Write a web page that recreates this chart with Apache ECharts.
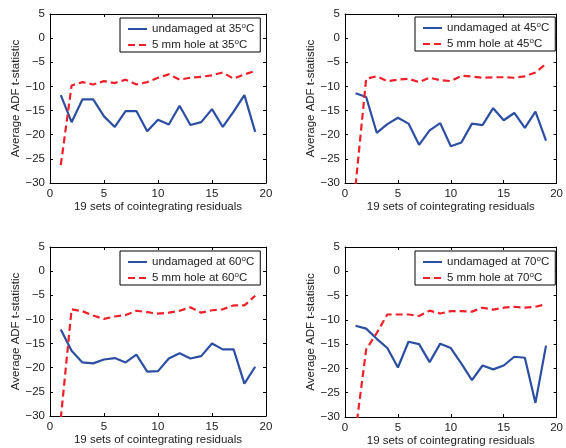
<!DOCTYPE html>
<html><head><meta charset="utf-8">
<script src="https://cdn.jsdelivr.net/npm/echarts@6/dist/echarts.min.js"></script>
<style>html,body{margin:0;padding:0;background:#fff}#c{width:566px;height:448px}</style>
</head><body><div id="c"></div>
<script>
// ---- data ----
const xSets = [1,2,3,4,5,6,7,8,9,10,11,12,13,14,15,16,17,18,19];
const temps = ['35','45','60','70'];
const undamaged35 = [-11.8,-17.4,-12.7,-12.7,-16.2,-18.4,-15.1,-15.1,-19.3,-16.9,-17.9,-14.0,-18.0,-17.4,-14.7,-18.4,-15.2,-11.8,-19.4];
const hole35      = [-26.3,-9.8,-9.1,-9.6,-8.9,-9.3,-8.6,-9.6,-9.1,-8.2,-7.5,-8.6,-8.2,-8.0,-7.7,-7.1,-8.4,-7.5,-6.8];
const undamaged45 = [-11.4,-12.2,-19.6,-17.8,-16.5,-17.7,-22.1,-19.1,-17.6,-22.4,-21.6,-17.7,-18.0,-14.5,-17.0,-15.5,-18.6,-15.2,-21.2];
const hole45      = [-30.5,-8.4,-7.9,-8.9,-8.6,-8.4,-9.1,-8.2,-8.7,-8.9,-7.8,-7.95,-8.2,-8.1,-8.1,-8.2,-7.9,-7.1,-5.3];
const undamaged60 = [-12.1,-16.5,-18.9,-19.1,-18.3,-18.0,-18.9,-17.3,-20.8,-20.7,-18.1,-17.0,-18.1,-17.6,-15.0,-16.2,-16.2,-23.3,-19.8];
const hole60      = [-30.5,-7.9,-8.3,-9.2,-9.9,-9.4,-9.1,-8.2,-8.5,-8.8,-8.6,-8.2,-7.5,-8.6,-8.1,-7.9,-7.1,-7.1,-5.1];
const undamaged70 = [-11.2,-11.8,-13.9,-15.8,-19.8,-14.5,-15.0,-18.7,-14.9,-15.8,-19.0,-22.4,-19.4,-20.2,-19.4,-17.6,-17.8,-27.1,-15.3];
const hole70      = [-33.0,-16.1,-12.7,-8.9,-8.9,-8.9,-9.2,-8.1,-8.7,-8.2,-8.2,-8.3,-7.5,-7.9,-7.5,-7.3,-7.5,-7.3,-6.8];
const xTitle = '19 sets of cointegrating residuals';
const yTitle = 'Average ADF t-statistic';

// ---- styling / layout ----
const BLUE = '#2C4FA3', RED = '#F0202A', TXT = '#222', FONT = '"Liberation Sans", Arial, Helvetica, sans-serif';
const undamaged = [undamaged35, undamaged45, undamaged60, undamaged70];
const holes = [hole35, hole45, hole60, hole70];
const layout = [
  {grid:{left:50, top:14, width:216, height:169}, legend:{left:120, top:18}},
  {grid:{left:345, top:14, width:217, height:169}, legend:{left:415, top:17}},
  {grid:{left:50, top:247, width:216, height:169}, legend:{left:120, top:251}},
  {grid:{left:345, top:247, width:217, height:170}, legend:{left:415, top:251}}
];

const grids = [], xAxes = [], yAxes = [], series = [], legends = [];
const lineAxis = {show:true, onZero:false, lineStyle:{color:'#000', width:1}};
const tick = {show:true, inside:true, length:3, lineStyle:{color:'#000'}};
const minus = v => String(v).replace('-', '\u2212');

temps.forEach((t, i) => {
  grids.push(Object.assign({containLabel:false}, layout[i].grid));
  xAxes.push({gridIndex:i, type:'value', min:0, max:20, interval:5, position:'bottom',
    axisLine:lineAxis, axisTick:tick, splitLine:{show:false},
    axisLabel:{color:TXT, fontSize:11.5, fontFamily:FONT, margin:5},
    name:xTitle, nameLocation:'middle', nameGap:17.5,
    nameTextStyle:{color:TXT, fontSize:11.5, fontFamily:FONT}});
  xAxes.push({gridIndex:i, type:'value', min:0, max:20, interval:5, position:'top',
    axisLine:lineAxis, axisTick:tick, splitLine:{show:false}, axisLabel:{show:false}});
  yAxes.push({gridIndex:i, type:'value', min:-30, max:5, interval:5, position:'left',
    axisLine:lineAxis, axisTick:tick, splitLine:{show:false},
    axisLabel:{color:TXT, fontSize:11.5, fontFamily:FONT, margin:5, formatter:minus},
    name:yTitle, nameLocation:'middle', nameRotate:90, nameGap:26,
    nameTextStyle:{color:TXT, fontSize:11.5, fontFamily:FONT}});
  yAxes.push({gridIndex:i, type:'value', min:-30, max:5, interval:5, position:'right',
    axisLine:lineAxis, axisTick:tick, splitLine:{show:false}, axisLabel:{show:false}});
  const nU = 'undamaged at ' + t + '°C', nH = '5 mm hole at ' + t + '°C';
  series.push({type:'line', name:nU, xAxisIndex:2*i, yAxisIndex:2*i, symbol:'none',
    data: xSets.map((x,k)=>[x, undamaged[i][k]]),
    lineStyle:{color:BLUE, width:2.2}, itemStyle:{color:BLUE}, clip:true});
  series.push({type:'line', name:nH, xAxisIndex:2*i, yAxisIndex:2*i, symbol:'none',
    data: xSets.map((x,k)=>[x, holes[i][k]]),
    lineStyle:{color:RED, width:2.2, type:[7,4]}, itemStyle:{color:RED}, clip:true});
  legends.push(Object.assign({
    data:[nU, nH], orient:'vertical', backgroundColor:'#fff', borderColor:'#000', borderWidth:1,
    padding:[4,6,1,7], itemGap:3, itemWidth:19, itemHeight:14, selectedMode:false,
    itemStyle:{color:'rgba(0,0,0,0)', borderWidth:0, opacity:0},
    formatter: n => { const p = n.split('°'); return '{t|' + p[0] + '}{s|o}{t|' + p[1] + '}'; },
    textStyle:{color:TXT, fontSize:11.5, fontFamily:FONT,
      rich:{t:{color:TXT, fontSize:11.5, fontFamily:FONT, lineHeight:14},
            s:{color:TXT, fontSize:8, fontFamily:FONT, verticalAlign:'top', lineHeight:6}}}
  }, layout[i].legend));
});

const chart = echarts.init(document.getElementById('c'), null, {renderer:'canvas'});
chart.setOption({animation:false, backgroundColor:'#fff', grid:grids, xAxis:xAxes, yAxis:yAxes, legend:legends, series:series});
</script></body></html>
